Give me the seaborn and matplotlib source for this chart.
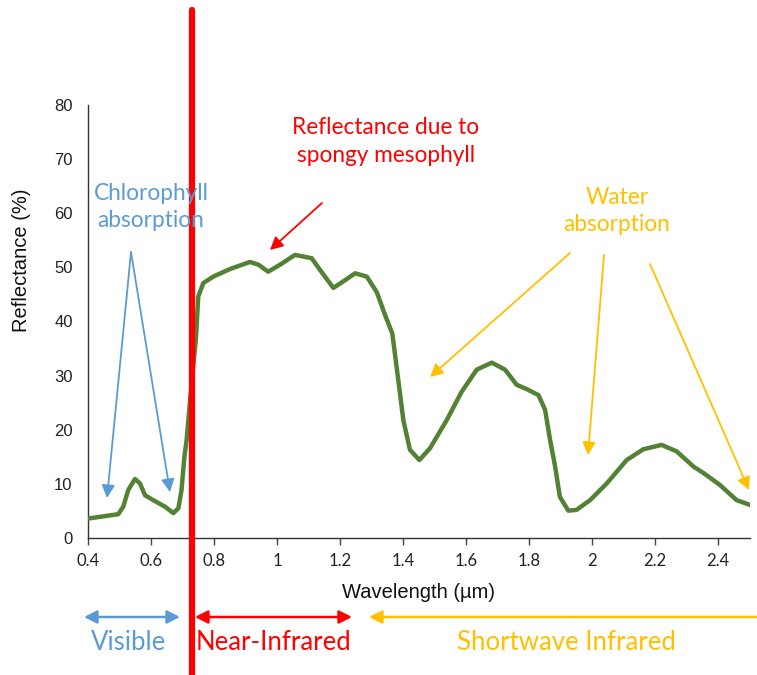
import matplotlib
matplotlib.use("Agg")
import matplotlib.pyplot as plt
import seaborn as sns
import pandas as pd

# ---- data ----
wavelength = [0.401, 0.496, 0.512, 0.528, 0.549, 0.565, 0.581, 0.607, 0.644, 0.671, 0.687,
              0.697, 0.706, 0.713, 0.728, 0.743, 0.750, 0.766, 0.798, 0.851, 0.914, 0.941,
              0.972, 1.010, 1.057, 1.110, 1.137, 1.179, 1.210, 1.248, 1.285, 1.317, 1.343,
              1.366, 1.385, 1.401, 1.422, 1.452, 1.486, 1.539, 1.586, 1.634, 1.682, 1.724,
              1.761, 1.793, 1.830, 1.851, 1.867, 1.883, 1.898, 1.925, 1.951, 1.994, 2.047,
              2.110, 2.163, 2.221, 2.269, 2.322, 2.354, 2.406, 2.459, 2.502]
reflectance = [3.6, 4.4, 5.8, 8.9, 10.9, 10.1, 7.9, 7.0, 5.8, 4.6, 5.5,
               8.9, 15.0, 18.1, 28.0, 37.2, 44.6, 47.1, 48.3, 49.7, 51.0, 50.5,
               49.2, 50.5, 52.3, 51.7, 49.5, 46.2, 47.4, 48.9, 48.3, 45.4, 41.2,
               37.8, 29.2, 21.8, 16.3, 14.4, 16.6, 21.8, 27.0, 31.1, 32.4, 31.1,
               28.3, 27.5, 26.4, 23.7, 18.1, 13.2, 7.6, 5.05, 5.2, 7.0, 10.1,
               14.4, 16.4, 17.2, 16.0, 13.2, 12.0, 9.8, 7.0, 6.1]
x_ticks = [0.4, 0.6, 0.8, 1.0, 1.2, 1.4, 1.6, 1.8, 2.0, 2.2, 2.4]
x_tick_labels = ["0.4", "0.6", "0.8", "1", "1.2", "1.4", "1.6", "1.8", "2", "2.2", "2.4"]
y_ticks = [0, 10, 20, 30, 40, 50, 60, 70, 80]
boundary_wl = 0.73

df = pd.DataFrame({"wavelength": wavelength, "reflectance": reflectance})

W, H = 757, 675
sns.set_theme(style="white")
plt.rcParams["font.family"] = ["Liberation Sans", "DejaVu Sans"]

fig = plt.figure(figsize=(W / 100, H / 100), dpi=100)
ax = fig.add_axes([88 / W, 1 - 538 / H, (749.5 - 88) / W, (538 - 105) / H])

GREEN = "#548235"
BLUE = "#5B9BD5"
RED = "#FF0000"
ORANGE = "#FFC000"
TXT = "Lato"

sns.lineplot(data=df, x="wavelength", y="reflectance", ax=ax, color=GREEN,
             linewidth=3.2, solid_capstyle="round", solid_joinstyle="round", zorder=3)

ax.set_xlim(0.4, 2.5)
ax.set_ylim(0, 80)
ax.set_xticks(x_ticks)
ax.set_xticklabels(x_tick_labels, fontsize=12, family=[TXT, "DejaVu Sans"], color="#222222")
ax.set_yticks(y_ticks)
ax.set_yticklabels([str(v) for v in y_ticks], fontsize=12, color="#222222")
ax.tick_params(axis="x", direction="out", length=5, width=1, color="#444444", pad=6, bottom=True)
ax.tick_params(axis="y", length=0, pad=11)
for s in ["top", "right"]:
    ax.spines[s].set_visible(False)
for s in ["left", "bottom"]:
    ax.spines[s].set_color("#333333")
    ax.spines[s].set_linewidth(1.0)
ax.set_xlabel("")
ax.set_ylabel("")

# red boundary line spanning whole figure
ax.axvline(boundary_wl, ymin=(538 - 676) / 433, ymax=(538 - 10) / 433, color=RED,
           linewidth=4.5, clip_on=False, zorder=5)

def fp(x, y):
    return (x / W, 1 - y / H)

fig.text(*fp(418, 592), "Wavelength (µm)", ha="center", va="center", fontsize=14.5, color="#111111")
fig.text(*fp(22, 260), "Reflectance (%)", ha="center", va="center", rotation=90, fontsize=14.5, color="#111111")

def arrow(x0, y0, x1, y1, color, both=False, lw=1.3):
    style = "<|-|>" if both else "-|>"
    fig.add_artist(matplotlib.patches.FancyArrowPatch(
        fp(x0, y0), fp(x1, y1), transform=fig.transFigure,
        arrowstyle=f"{style},head_length=0.55,head_width=0.28", mutation_scale=14,
        color=color, linewidth=lw, shrinkA=0, shrinkB=0))

ANN = 16.3
LS = 1.38
# annotations
fig.text(*fp(151, 207), "Chlorophyll\nabsorption", ha="center", va="center", fontsize=ANN,
         color=BLUE, family=TXT, linespacing=LS)
arrow(131, 252, 107, 498, BLUE)
arrow(131, 252, 170, 492, BLUE)

fig.text(*fp(386, 141.5), "Reflectance due to\nspongy mesophyll", ha="center", va="center", fontsize=ANN,
         color=RED, family=TXT, linespacing=LS)
arrow(322, 203, 270, 250, RED)

fig.text(*fp(617, 211), "Water\nabsorption", ha="center", va="center", fontsize=ANN,
         color=ORANGE, family=TXT, linespacing=LS)
arrow(570, 253, 430, 377, ORANGE)
arrow(604, 255, 588, 455, ORANGE)
arrow(650, 264, 749, 490, ORANGE)

# spectral regions
BOT = 18.5
arrow(84, 617, 180, 617, BLUE, both=True, lw=1.8)
fig.text(*fp(129, 642), "Visible", ha="center", va="center", fontsize=BOT, color=BLUE, family=TXT)
arrow(195, 617, 352, 617, RED, both=True, lw=1.8)
fig.text(*fp(273, 642), "Near-Infrared", ha="center", va="center", fontsize=BOT, color=RED, family=TXT)
arrow(757, 617, 369, 617, ORANGE, lw=1.8)
fig.text(*fp(566, 643), "Shortwave Infrared", ha="center", va="center", fontsize=BOT, color=ORANGE, family=TXT)

fig.savefig("out.png", dpi=100, facecolor="white")
